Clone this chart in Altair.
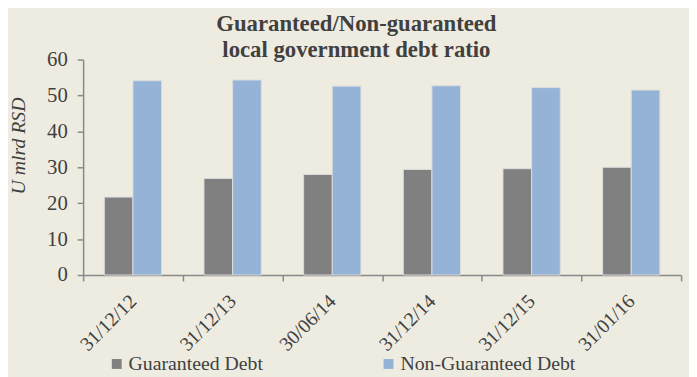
import altair as alt
import pandas as pd

dates = ["31/12/12", "31/12/13", "30/06/14", "31/12/14", "31/12/15", "31/01/16"]
guaranteed = [21.7, 26.9, 28.0, 29.4, 29.6, 30.0]
non_guaranteed = [54.1, 54.3, 52.6, 52.7, 52.2, 51.5]
series = ["Guaranteed Debt", "Non-Guaranteed Debt"]
colors = ["#808080", "#95B3D7"]

rows = []
for d, g, n in zip(dates, guaranteed, non_guaranteed):
    rows.append({"date": d, "series": series[0], "value": g})
    rows.append({"date": d, "series": series[1], "value": n})
df = pd.DataFrame(rows)

FONT = "Liberation Serif"
TXT = "#404040"

chart = alt.Chart(df).mark_bar(stroke="#dcdcdc", strokeWidth=1).encode(
    x=alt.X("date:N", sort=dates, title=None,
            scale=alt.Scale(paddingInner=0, paddingOuter=0),
            axis=alt.Axis(labelAngle=-45, labelAlign="right", labelBaseline="middle",
                          labelPadding=17, tickBand="extent", tickSize=6,
                          labelFont=FONT, labelFontSize=20, labelColor=TXT,
                          domainColor="#898989", tickColor="#898989", domainWidth=1.5, tickWidth=1.5)),
    xOffset=alt.XOffset("series:N", sort=series,
                        scale=alt.Scale(paddingInner=0, paddingOuter=0.74)),
    y=alt.Y("value:Q", scale=alt.Scale(domain=[0, 60]),
            title="U mlrd RSD",
            axis=alt.Axis(values=[0, 10, 20, 30, 40, 50, 60], grid=False, tickSize=6,
                          labelPadding=10, labelFont=FONT, labelFontSize=21, labelColor=TXT,
                          domainColor="#898989", tickColor="#898989", domainWidth=1.5, tickWidth=1.5,
                          titleFont=FONT, titleFontSize=20, titleFontStyle="italic",
                          titleFontWeight="normal", titleColor=TXT,
                          titleX=-55, titleY=87, titleAngle=-90)),
    color=alt.Color("series:N", sort=series, scale=alt.Scale(domain=series, range=colors),
                    legend=alt.Legend(title=None, orient="none", legendX=24, legendY=298,
                                      direction="horizontal", symbolType="square",
                                      symbolSize=100, symbolStrokeWidth=0, labelFont=FONT,
                                      labelFontSize=20, labelColor=TXT, columnPadding=116,
                                      labelLimit=400, padding=0, labelOffset=2)),
).properties(
    width=605, height=218,
    title=alt.TitleParams(["Guaranteed/Non-guaranteed", "local government debt ratio"],
                          font=FONT, fontSize=23, fontWeight="bold", color=TXT,
                          anchor="middle", dx=-26, dy=19, offset=6, lineHeight=26),
    background="#EEECE1",
    autosize=alt.AutoSizeParams(type="none"),
    padding={"left": 76, "top": 50, "right": 8, "bottom": 101},
).configure_view(stroke=None)

chart.save("out.html", embed_options={"renderer": "svg", "actions": False})
